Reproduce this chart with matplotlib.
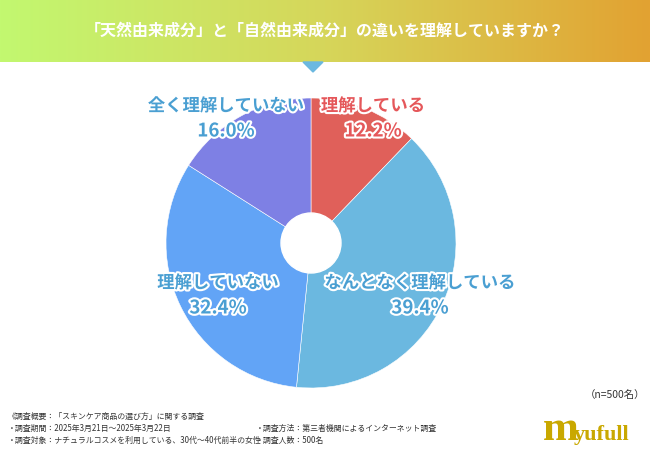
import numpy as np
import matplotlib.pyplot as plt
import matplotlib.patheffects as pe
from matplotlib.colors import LinearSegmentedColormap

plt.rcParams['font.family'] = ['Noto Sans CJK JP', 'DejaVu Sans']

# data
labels = ['理解している', 'なんとなく理解している', '理解していない', '全く理解していない']
values = [12.2, 39.4, 32.4, 16.0]
colors = ['#E0605A', '#6BB8E0', '#62A4F6', '#7E80E4']
label_colors = ['#E5575A', '#4A9FD2', '#4A9FD2', '#4A9FD2']
label_pos = [(373, 106), (420, 283), (218, 283), (226, 106)]  # px from top-left

title = '「天然由来成分」と「自然由来成分」の違いを理解していますか？'
notes_left = ['《調査概要：「スキンケア商品の選び方」に関する調査',
              '・調査期間：2025年3月21日～2025年3月22日',
              '・調査対象：ナチュラルコスメを利用している、30代～40代前半の女性']
notes_right = ['・調査方法：第三者機関によるインターネット調査',
               '・調査人数：500名']

W, H = 650, 450
fig = plt.figure(figsize=(6.5, 4.5), dpi=100)
ax = fig.add_axes([0, 0, 1, 1])
ax.set_xlim(0, W)
ax.set_ylim(0, H)
ax.set_aspect('equal')
ax.axis('off')

# header gradient bar
cmap = LinearSegmentedColormap.from_list('hdr', ['#C2F870', '#D6D65A', '#E2A232'])
grad = np.linspace(0, 1, 256).reshape(1, -1)
ax.imshow(grad, cmap=cmap, extent=[0, W, H - 62, H], aspect='auto', zorder=1)
ax.fill([303, 323, 313], [H - 62, H - 62, H - 72], color='#6BB8E0', zorder=2)
ax.text(W / 2, H - 31, title, color='white', fontsize=11.5, fontweight='bold',
        ha='center', va='center', zorder=3)

# pie
cx, cy, r = 311, H - 243, 145
ax.pie(values, colors=colors, startangle=90, counterclock=False,
       center=(cx, cy), radius=r,
       wedgeprops=dict(edgecolor='white', linewidth=0.4))
ax.add_patch(plt.Circle((cx, cy), 30, color='white', zorder=5))
ax.set_xlim(0, W)
ax.set_ylim(0, H)

stroke = [pe.withStroke(linewidth=3, foreground='white')]
for lab, val, col, (x, y) in zip(labels, values, label_colors, label_pos):
    ax.text(x, H - y, lab, color=col, fontsize=12.5, fontweight='bold',
            ha='center', va='center', path_effects=stroke, zorder=6)
    ax.text(x, H - y - 25, f'{val:.1f}%', color=col, fontsize=13.5, fontweight='bold',
            ha='center', va='center', path_effects=stroke, zorder=6)

# footnotes
ax.text(645, H - 395, '（n=500名）', fontsize=7.5, color='#333333', ha='right', va='center')
for i, t in enumerate(notes_left):
    ax.text(8, H - 416 - 12 * i, t, fontsize=5.7, color='#333333', ha='left', va='center')
for i, t in enumerate(notes_right):
    ax.text(256, H - 428 - 12 * i, t, fontsize=5.7, color='#333333', ha='left', va='center')

# logo
ax.text(543, H - 440, 'm', fontsize=31, color='#C9A800', family='Liberation Serif',
        fontweight='bold', ha='left', va='baseline')
ax.text(574, H - 440, 'yufull', fontsize=16, color='#C9A800', family='Liberation Serif',
        fontweight='bold', ha='left', va='baseline')

fig.savefig('out.png', dpi=100)
